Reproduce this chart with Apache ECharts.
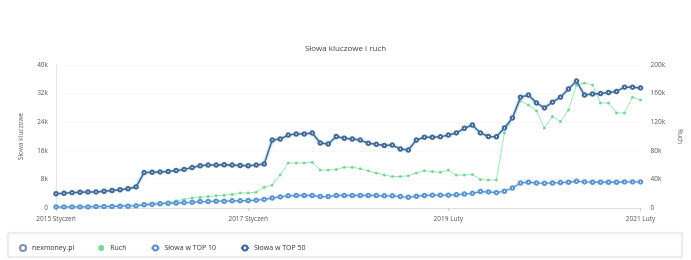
<!DOCTYPE html>
<html><head><meta charset="utf-8">
<script src="https://cdn.jsdelivr.net/npm/echarts@6/dist/echarts.min.js"></script>
<style>html,body{margin:0;padding:0;background:#fff}#c{width:691px;height:260px}</style>
</head><body><div id="c"></div>
<script>
var years = [2015,2016,2017,2018,2019,2020,2021];
var monthNames = ['Styczeń','Luty','Marzec','Kwiecień','Maj','Czerwiec','Lipiec','Sierpień','Wrzesień','Październik','Listopad','Grudzień'];
var labelIdx = [0,24,49,73];
var leftTicks = ['0','8k','16k','24k','32k','40k'];
var rightTicks = ['0','40k','80k','120k','160k','200k'];
var siteName = 'nexmoney.pl';

var ruch = [1,1,2,2,2,3,3,3,4,4,4,6,7,7,8,10,12,14,15,16,17,18,19,21,21,22,29,32,46,63,63,63,64,53,53,54,57,57,55,52,49,46,44,44,45,49,52,51,50,53,46,46,47,40,39,39,105,126,150,144,136,112,128,121,137,172,175,172,147,147,133,133,155,151];
var top10 = [0.3,0.3,0.3,0.3,0.3,0.4,0.4,0.4,0.5,0.5,0.6,0.9,1.0,1.2,1.3,1.4,1.5,1.6,1.8,1.8,1.9,1.9,2.0,2.0,2.1,2.2,2.4,2.8,3.1,3.4,3.5,3.5,3.5,3.2,3.2,3.5,3.5,3.5,3.5,3.5,3.5,3.4,3.4,3.2,3.0,3.3,3.5,3.6,3.6,3.6,3.7,3.9,4.1,4.6,4.5,4.3,4.7,5.6,7.0,7.2,7.0,6.9,7.0,7.1,7.2,7.5,7.3,7.2,7.2,7.2,7.2,7.3,7.3,7.3];
var top50 = [4.0,4.1,4.3,4.4,4.5,4.5,4.7,4.9,5.1,5.4,5.9,9.9,10.0,10.1,10.2,10.5,10.8,11.3,11.8,12.0,12.0,12.1,12.0,11.9,11.8,12.0,12.3,19.0,19.3,20.4,20.7,20.7,21.0,18.2,17.9,20.0,19.5,19.3,19.0,18.1,17.8,17.5,17.6,16.5,16.2,19.0,19.8,19.8,19.9,20.4,21.0,22.3,23.2,21.0,20.0,19.9,22.4,25.2,31.0,31.6,29.4,28.0,29.6,31.0,33.3,35.5,31.6,31.9,32.0,32.3,32.6,33.8,33.8,33.6];

var categories = [];
years.forEach(function(y){ monthNames.forEach(function(m){ categories.push(y + ' ' + m); }); });
categories = categories.slice(0, ruch.length);

var FONT = 'Open Sans';
var chart = echarts.init(document.getElementById('c'));
chart.setOption({
  animation: false,
  textStyle: { fontFamily: FONT },
  title: { text: 'Słowa kluczowe i ruch', left: 'center', top: 40, textStyle: { fontSize: 8, fontWeight: 'normal', color: '#444', fontFamily: FONT } },
  grid: { left: 56, right: 49, top: 65, bottom: 52 },
  graphic: [{ type: 'rect', shape: { x: 8, y: 233, width: 674, height: 24 }, style: { fill: '#fff', stroke: '#e2e2e2', lineWidth: 1, shadowBlur: 2, shadowColor: 'rgba(0,0,0,0.08)' }, z: 0 }],
  legend: {
    left: 14, top: 239, itemGap: 24, itemWidth: 8, itemHeight: 6, z: 10,
    textStyle: { fontSize: 7, color: '#333', fontFamily: FONT },
    data: [ { name: siteName, icon: 'emptyCircle' }, { name: 'Ruch', icon: 'circle' }, 'Słowa w TOP 10', 'Słowa w TOP 50' ]
  },
  xAxis: {
    type: 'category', data: categories, boundaryGap: false,
    axisLine: { lineStyle: { color: '#ddd' } },
    axisTick: { show: true, alignWithLabel: true, interval: function(i){ return labelIdx.indexOf(i) >= 0; }, lineStyle: { color: '#ccc' }, length: 3 },
    axisLabel: { interval: function(i){ return labelIdx.indexOf(i) >= 0; }, fontSize: 6.5, color: '#555', margin: 8 }
  },
  yAxis: [
    { type: 'value', min: 0, max: 40, interval: 8, name: 'Słowa kluczowe', nameLocation: 'middle', nameGap: 31, nameTextStyle: { fontSize: 6.5, color: '#666' },
      axisLine: { show: true, lineStyle: { color: '#e6e6e6' } },
      axisLabel: { fontSize: 6.5, color: '#555', formatter: function(v){ return leftTicks[Math.round(v/8)]; } },
      splitLine: { lineStyle: { color: '#f2f2f2', type: 'dotted' } } },
    { type: 'value', min: 0, max: 200, interval: 40, name: 'Ruch', nameLocation: 'middle', nameGap: 32, nameRotate: -90, nameTextStyle: { fontSize: 6.5, color: '#666' },
      axisLine: { show: false }, axisLabel: { fontSize: 6.5, color: '#555', margin: 10, formatter: function(v){ return rightTicks[Math.round(v/40)]; } },
      splitLine: { show: false } }
  ],
  series: [
    { name: siteName, type: 'line', data: [], itemStyle: { color: '#7d8fb3' } },
    { name: 'Ruch', type: 'line', yAxisIndex: 1, data: ruch, symbol: 'circle', symbolSize: 3,
      lineStyle: { width: 1, color: '#9be6b4' }, itemStyle: { color: '#74d896' }, z: 2 },
    { name: 'Słowa w TOP 10', type: 'line', data: top10, symbol: 'emptyCircle', symbolSize: 3.5,
      lineStyle: { width: 1.3, color: '#5b8fd0', shadowBlur: 3, shadowColor: 'rgba(110,220,235,0.9)' },
      itemStyle: { color: '#5b8fd0', borderWidth: 0.9 }, z: 3 },
    { name: 'Słowa w TOP 50', type: 'line', data: top50, symbol: 'emptyCircle', symbolSize: 3.5,
      lineStyle: { width: 1.5, color: '#41668f', shadowBlur: 3, shadowColor: 'rgba(100,180,240,0.9)' },
      itemStyle: { color: '#41668f', borderWidth: 0.9 }, z: 4 }
  ]
});
</script></body></html>
